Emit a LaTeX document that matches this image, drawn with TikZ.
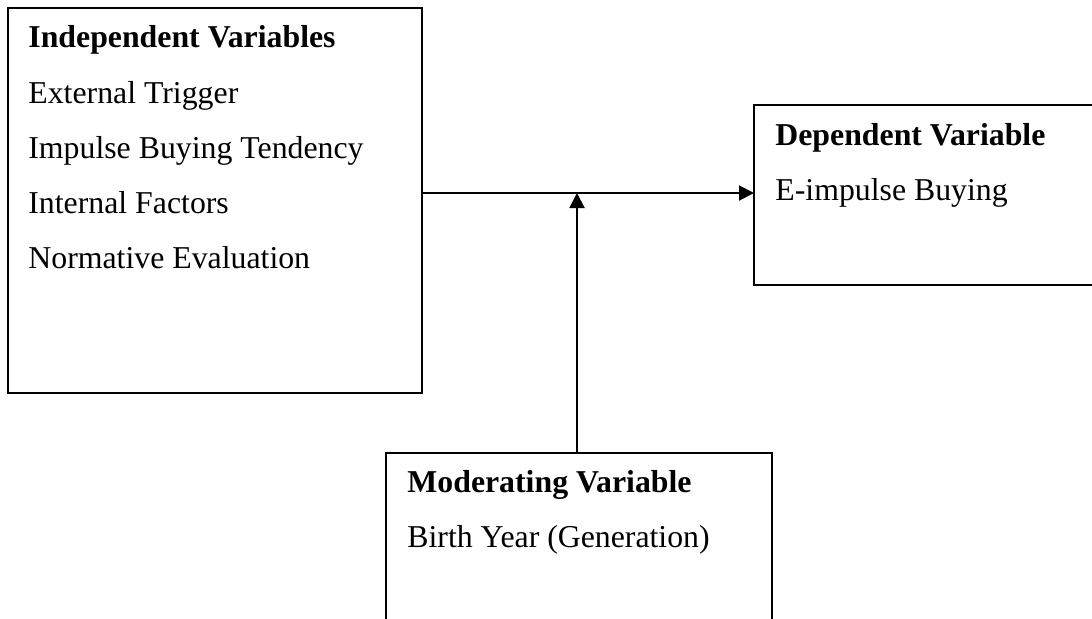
\documentclass[tikz,border=0pt]{standalone}
\usepackage{fontspec}
\setmainfont{Liberation Serif}
\usetikzlibrary{arrows.meta}
\begin{document}
\begin{tikzpicture}[x=0.5pt,y=-0.5pt,
  box/.style={draw,line width=1pt,rectangle,inner sep=0pt,outer sep=0pt,anchor=north west},
  lbl/.style={anchor=base west,inner sep=0pt,font=\fontsize{15.9}{19}\selectfont},
  head/.style={lbl,font=\fontsize{15.9}{19}\selectfont\bfseries},
  link/.style={line width=1pt,-{Triangle[length=7.5pt,width=7.5pt]}}]
\useasboundingbox (0,0) rectangle (1092,618);
\clip (0,0) rectangle (1092,618);
% boxes
\node[box,minimum width=207pt,minimum height=192.5pt] (ind) at (8,8) {};
\node[box,minimum width=173pt,minimum height=90pt] (dep) at (754,105) {};
\node[box,minimum width=193pt,minimum height=93.5pt] (mod) at (386,453) {};
% texts
\node[head] (indh) at (28,47) {Independent Variables};
\node[lbl] (ind1) at (28,103) {External Trigger};
\node[lbl] (ind2) at (28,158) {Impulse Buying Tendency};
\node[lbl] (ind3) at (28,213) {Internal Factors};
\node[lbl] (ind4) at (28,268) {Normative Evaluation};
\node[head] (deph) at (775,145) {Dependent Variable};
\node[lbl] (dep1) at (775,200) {E-impulse Buying};
\node[head] (modh) at (407,492) {Moderating Variable};
\node[lbl] (mod1) at (407,547) {Birth Year (Generation)};
% connectors
\coordinate (j) at (577,193);
\draw[link] (ind.east |- j) -- (dep.west |- j);
\draw[link] (mod.north -| j) -- (j);
\end{tikzpicture}
\end{document}
